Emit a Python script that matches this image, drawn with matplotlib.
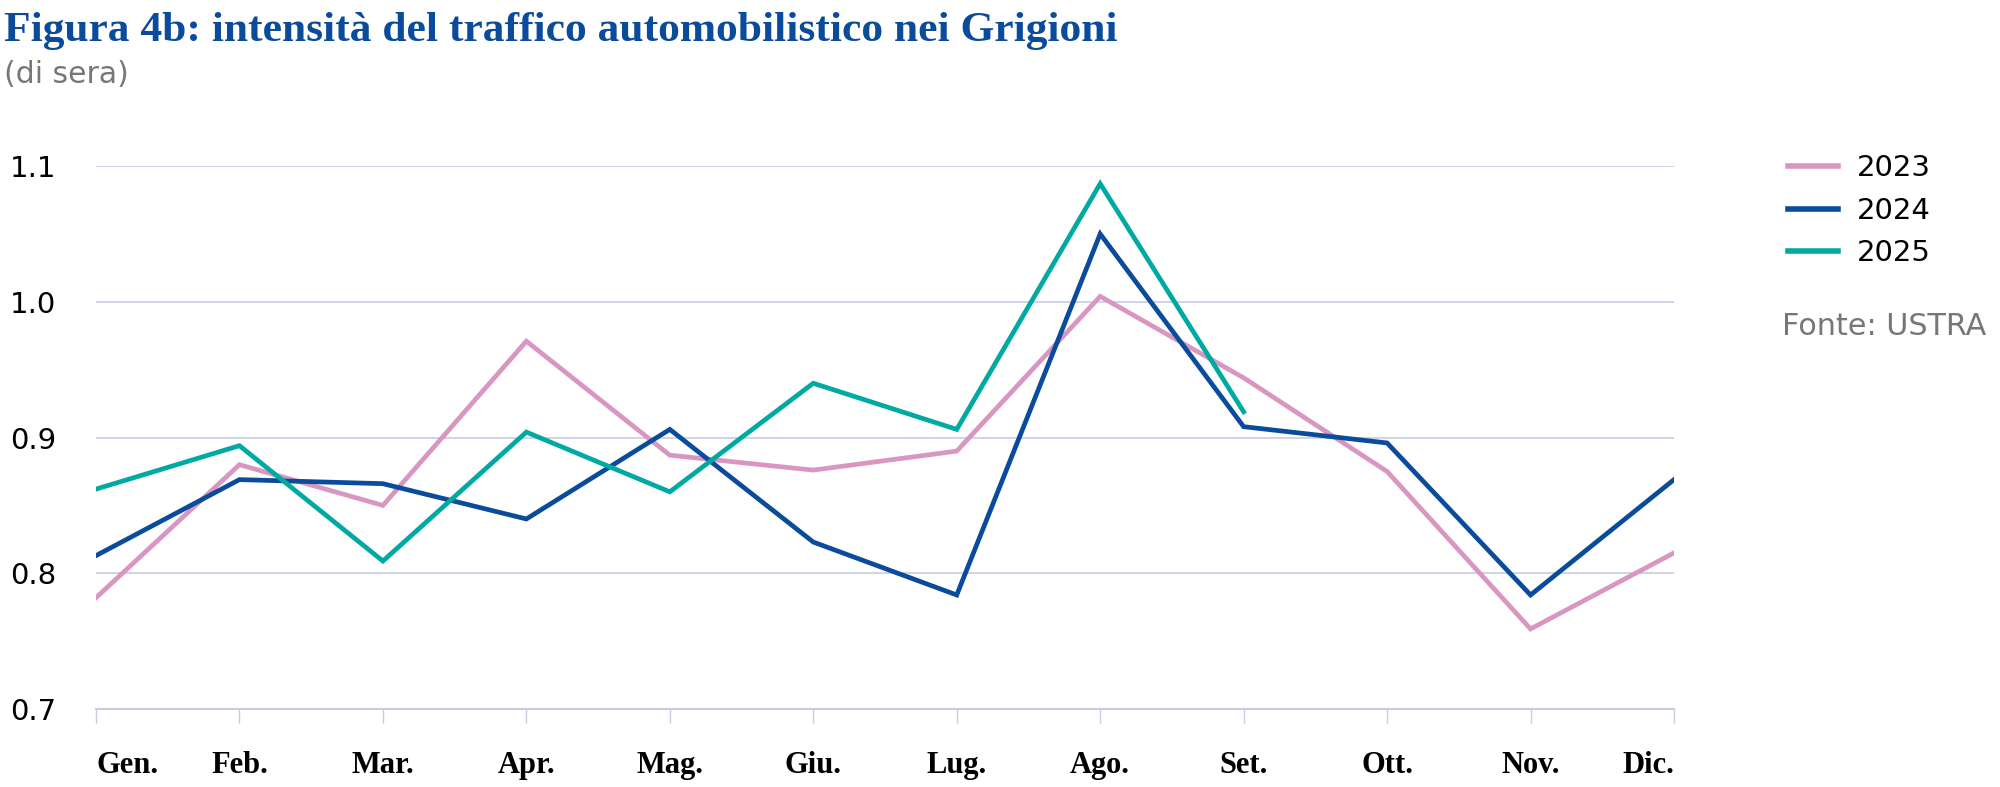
import matplotlib
matplotlib.use("Agg")
import matplotlib.pyplot as plt

# Dati
mesi = ["Gen.", "Feb.", "Mar.", "Apr.", "Mag.", "Giu.", "Lug.", "Ago.", "Set.", "Ott.", "Nov.", "Dic."]
valori_2023 = [0.782, 0.880, 0.850, 0.971, 0.887, 0.876, 0.890, 1.004, 0.944, 0.875, 0.759, 0.815]
valori_2024 = [0.813, 0.869, 0.866, 0.840, 0.906, 0.823, 0.784, 1.050, 0.908, 0.896, 0.784, 0.869]
valori_2025 = [0.862, 0.894, 0.809, 0.904, 0.860, 0.940, 0.906, 1.087, 0.919]
yticks = [0.7, 0.8, 0.9, 1.0, 1.1]

col_2023 = "#d996c1"
col_2024 = "#0a4b9b"
col_2025 = "#00a9a1"
col_grid = "#c8cbe3"
col_titolo = "#0a4b9b"

fig = plt.figure(figsize=(20, 7.87), dpi=100)
ax = fig.add_axes([0.048, 0.0991, 0.789, 0.6899])

x = list(range(len(mesi)))
ax.plot(x, valori_2023, color=col_2023, lw=3.4, label="2023", solid_joinstyle="miter")
ax.plot(x, valori_2024, color=col_2024, lw=3.4, label="2024", solid_joinstyle="miter")
ax.plot(x[:len(valori_2025)], valori_2025, color=col_2025, lw=3.4, label="2025", solid_joinstyle="miter")

ax.set_xlim(0, 11)
ax.set_ylim(0.7, 1.1)
ax.set_yticks(yticks)
ax.set_yticklabels([f"{v:.1f}" for v in yticks])
for v in yticks[1:]:
    ax.axhline(v, color=col_grid, lw=1.2, zorder=0)

for s in ["top", "right", "left"]:
    ax.spines[s].set_visible(False)
ax.spines["bottom"].set_color(col_grid)
ax.spines["bottom"].set_linewidth(1.5)

ax.set_xticks(x)
ax.set_xticklabels(mesi, fontfamily="Liberation Serif", fontweight="bold", fontsize=22)
ax.tick_params(axis="x", length=10, width=1, color=col_grid, pad=20)
ax.tick_params(axis="y", length=0, pad=62, labelsize=21)
for lab in ax.get_yticklabels():
    lab.set_horizontalalignment("left")
xl = ax.get_xticklabels()
xl[0].set_horizontalalignment("left")
xl[-1].set_horizontalalignment("right")

fig.text(0.002, 0.985, "Figura 4b: intensità del traffico automobilistico nei Grigioni",
         fontfamily="Liberation Serif", fontweight="bold", fontsize=31.3, color=col_titolo, va="top")
fig.text(0.002, 0.905, "(di sera)", fontsize=21.5, color="#777777", va="center")

leg = fig.legend(loc="upper left", bbox_to_anchor=(0.894, 0.804), frameon=False, fontsize=21,
                 handlelength=1.7, handletextpad=0.65, labelspacing=0.5,
                 borderpad=0, borderaxespad=0)
for h in leg.get_lines():
    h.set_linewidth(4)
fig.text(0.891, 0.585, "Fonte: USTRA", fontsize=21.8, color="#777777", va="center")

fig.savefig("out.png", dpi=100)
